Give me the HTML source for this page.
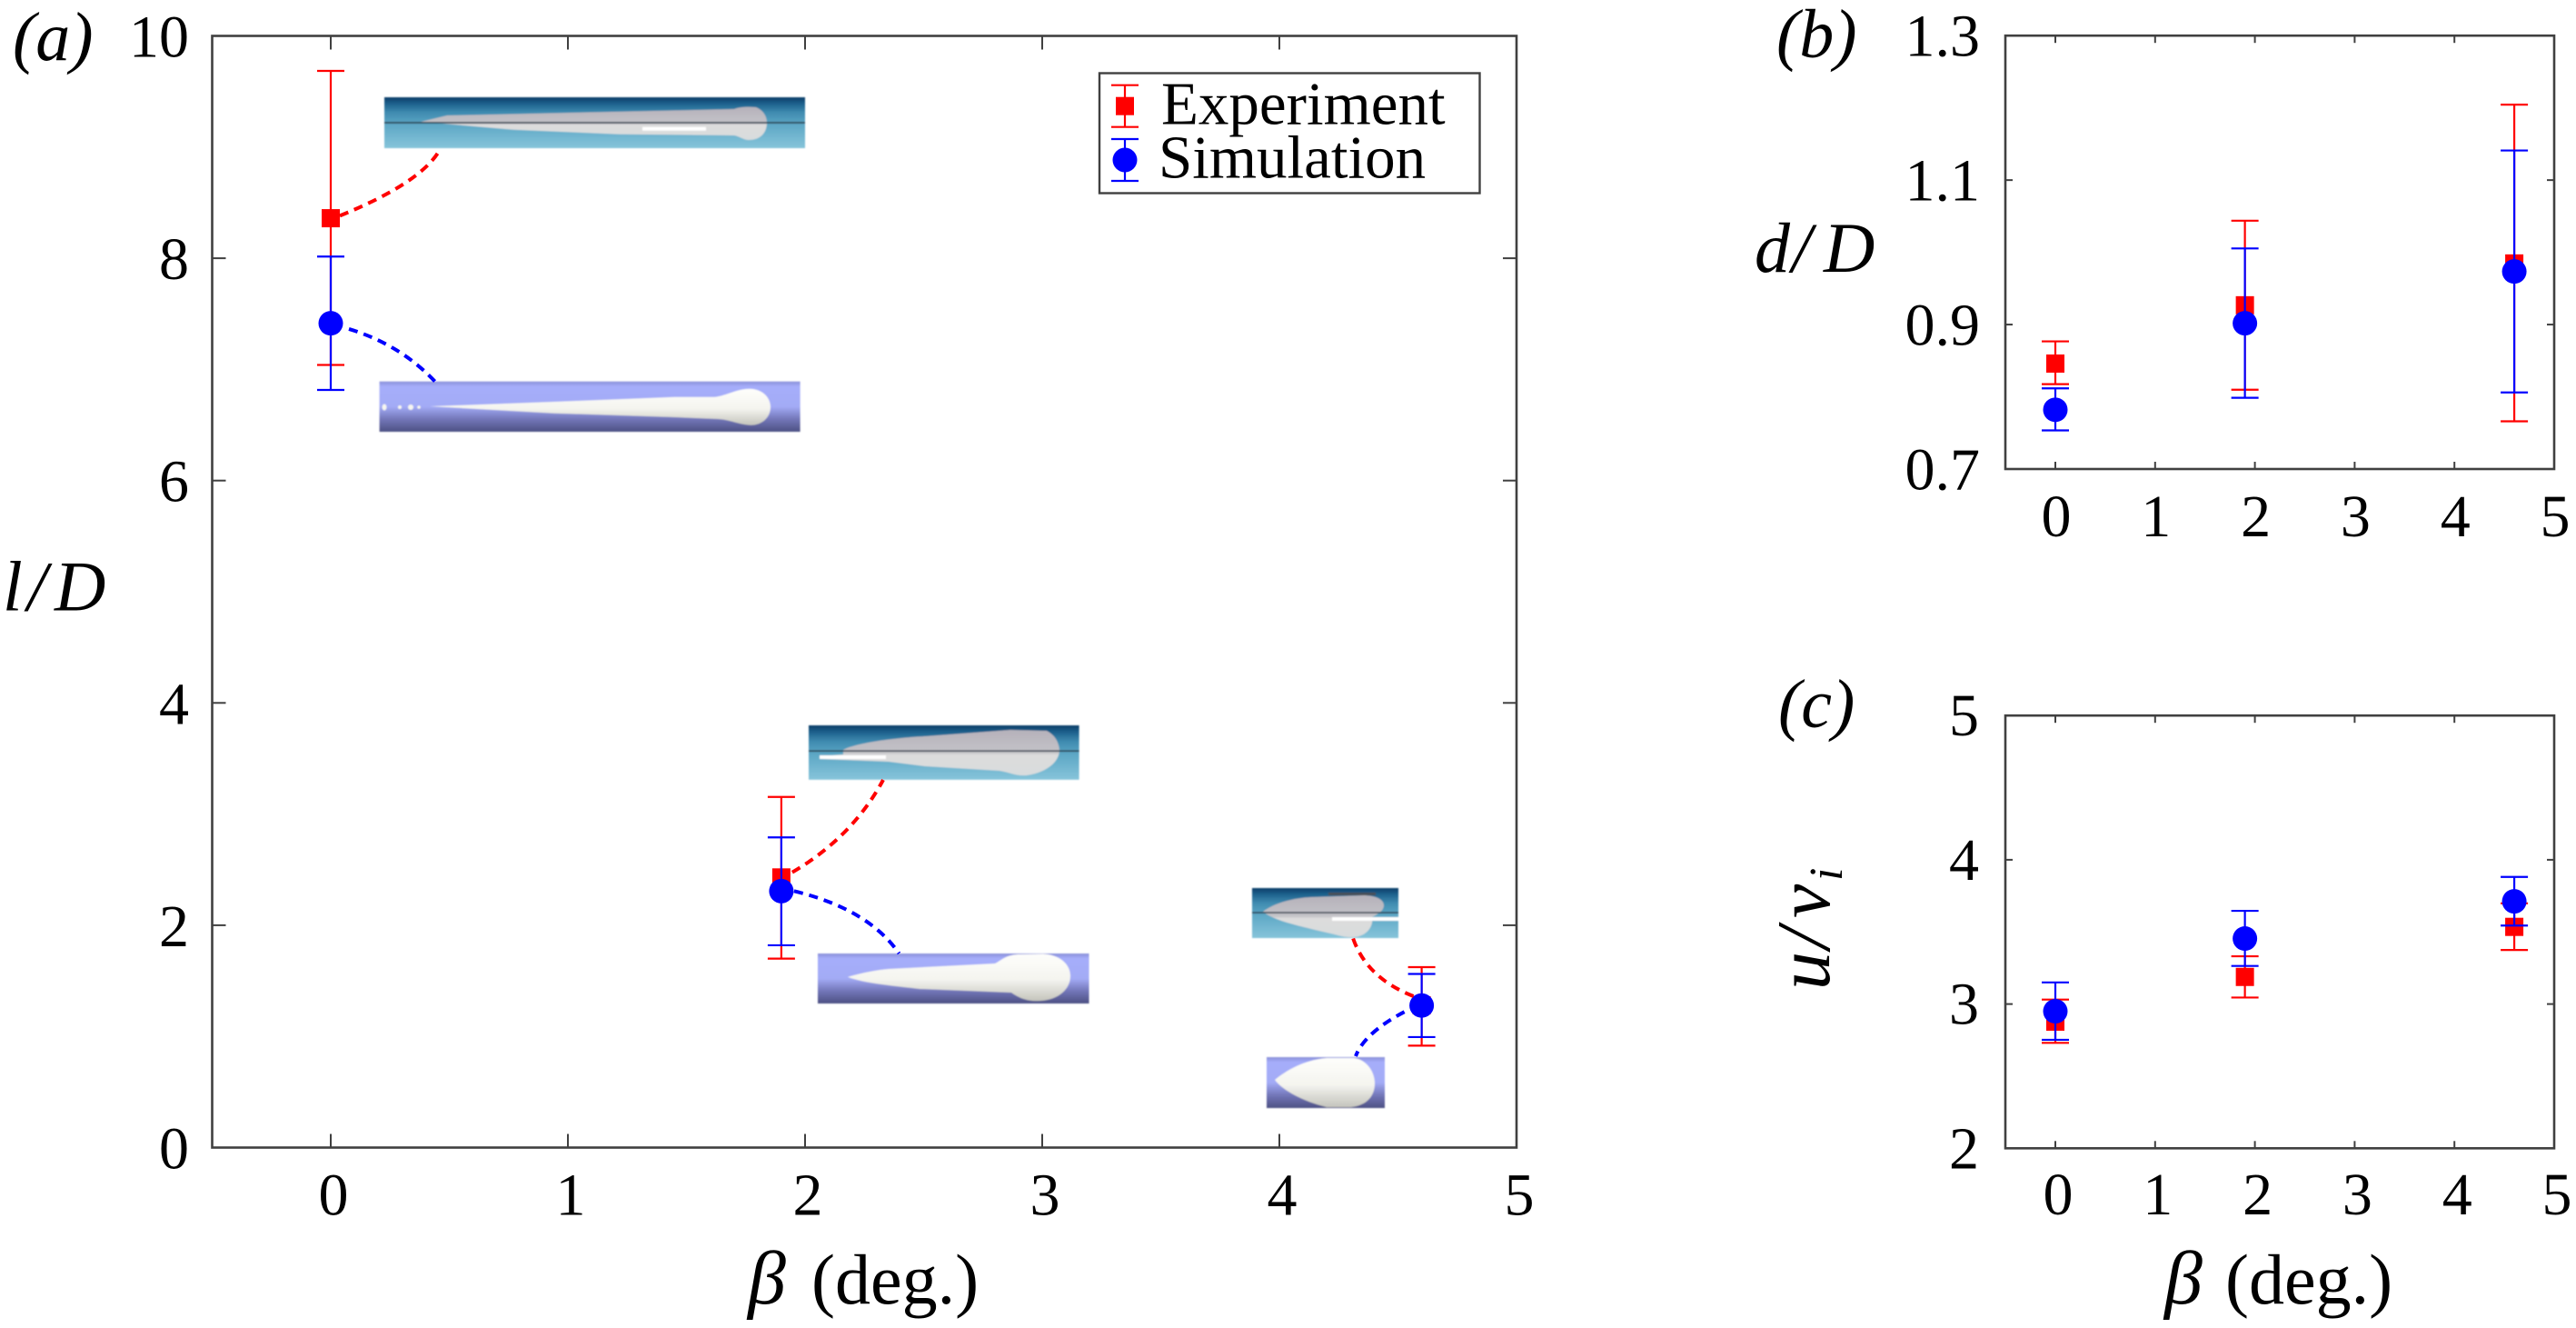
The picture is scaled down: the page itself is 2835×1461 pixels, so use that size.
<!DOCTYPE html>
<html lang="en">
<head>
<meta charset="utf-8">
<title>Length, diameter and velocity versus inclination angle</title>
<style>
html,body{margin:0;padding:0;background:#fff;width:2835px;height:1461px;overflow:hidden}
svg{display:block}
text{font-family:"Liberation Serif",serif;fill:#000}
.it{font-style:italic}
</style>
</head>
<body>
<svg id="fig" xmlns="http://www.w3.org/2000/svg" width="2835" height="1461" viewBox="0 0 2835 1461">
<defs>
<linearGradient id="expBg" x1="0" y1="0" x2="0" y2="1">
<stop offset="0" stop-color="#0b3d68"/><stop offset="0.12" stop-color="#1c5f8b"/><stop offset="0.3" stop-color="#3f8bb0"/><stop offset="0.55" stop-color="#5ea8c6"/><stop offset="1" stop-color="#86c4da"/>
</linearGradient>
<linearGradient id="simBg" x1="0" y1="0" x2="0" y2="1">
<stop offset="0" stop-color="#8a90d8"/><stop offset="0.1" stop-color="#a5adfa"/><stop offset="0.5" stop-color="#a3abf6"/><stop offset="0.75" stop-color="#7276b8"/><stop offset="1" stop-color="#4d5083"/>
</linearGradient>
<linearGradient id="expBlob" x1="0" y1="0" x2="0" y2="1">
<stop offset="0" stop-color="#b5b1ba"/><stop offset="0.5" stop-color="#c4c3c8"/><stop offset="0.55" stop-color="#dcdcdc"/><stop offset="1" stop-color="#d8dcdd"/>
</linearGradient>
<linearGradient id="simBlob" x1="0" y1="0" x2="0" y2="1">
<stop offset="0" stop-color="#fefefb"/><stop offset="0.55" stop-color="#f4f4ef"/><stop offset="1" stop-color="#c4c4bc"/>
</linearGradient>
<filter id="soft" x="-2%" y="-5%" width="104%" height="110%"><feGaussianBlur stdDeviation="0.7"/></filter>
</defs>

<g id="insets" filter="url(#soft)">
<g>
<rect x="423" y="107" width="463" height="56" fill="url(#expBg)"/>
<path d="M463 134L492 127L628 124L808 120C812 118 822 117 832 118C840 121 844 128 844 135C844 145 838 154 824 154C818 154 814 150 808 149L682 147.7L565 142.7Z" fill="url(#expBlob)"/>
<rect x="707" y="139.7" width="70" height="4" fill="#fff"/>
<rect x="423" y="134.2" width="463" height="1.6" fill="#2a3a48"/>
</g>
<g>
<rect x="417.6" y="419.7" width="463" height="55.3" fill="url(#simBg)"/>
<path d="M473 447L610 442L743 436.7L787 436.7C800 435 810 428 825 427.7C840 428 848 438 848 447.7C848 458 840 467.7 826 467.7C812 467 805 462 790 461L743 459L610 454.7Z" fill="url(#simBlob)"/>
<ellipse cx="423" cy="448" rx="2.5" ry="3.5" fill="#f6f6f0"/><circle cx="440" cy="448" r="2" fill="#f6f6f0"/><circle cx="452" cy="448" r="3" fill="#f6f6f0"/><circle cx="461" cy="448" r="1.8" fill="#f6f6f0"/>
</g>
<g>
<rect x="890" y="798" width="297.6" height="59.8" fill="url(#expBg)"/>
<path d="M928 825C940 818 980 812 1018 810L1112 803L1152 804C1160 808 1165 815 1166 825C1166 838 1152 850 1130 853C1118 854 1112 850 1100 848L1018 843L978 838L902 835L902 832L928 830Z" fill="url(#expBlob)"/>
<rect x="902" y="831" width="73" height="4" fill="#fff"/>
<rect x="890" y="825.4" width="297.6" height="1.6" fill="#2a3a48"/>
</g>
<g>
<rect x="900" y="1049" width="298.5" height="55" fill="url(#simBg)"/>
<path d="M933 1074.7C950 1070 965 1067 978 1066L1095 1060C1103 1056 1106 1051 1120 1050L1148 1049.5C1165 1050 1178 1060 1178 1073.7C1178 1088 1165 1100 1145 1101C1130 1102 1122 1098 1113 1092L1012 1088C990 1085 950 1082 933 1074.7Z" fill="url(#simBlob)"/>
</g>
<g>
<rect x="1378" y="977" width="161" height="55" fill="url(#expBg)"/>
<rect x="1462" y="982" width="52" height="3" fill="#4a4f58"/>
<path d="M1390 1003C1400 995 1420 988 1443 987L1500 985C1515 985 1523 990 1523 996C1523 1002 1516 1006 1510 1009C1512 1018 1505 1030 1490 1031C1480 1032 1470 1028 1460 1026C1430 1019 1400 1012 1390 1003Z" fill="url(#expBlob)"/>
<rect x="1466" y="1009" width="73" height="4" fill="#fff"/>
<rect x="1378" y="1003.3" width="161" height="1.5" fill="#2a3a48"/>
</g>
<g>
<rect x="1394" y="1163" width="130" height="56" fill="url(#simBg)"/>
<path d="M1403 1188C1415 1178 1435 1166 1460 1164L1490 1164C1505 1166 1513 1180 1513 1192C1513 1205 1505 1216 1487 1218L1460 1218C1435 1212 1412 1200 1403 1188Z" fill="url(#simBlob)"/>
</g>
</g>

<text x="14" y="66" font-size="76" class="it">(a)</text>
<text x="1955" y="63" font-size="76" class="it">(b)</text>
<text x="1957" y="800" font-size="76" class="it">(c)</text>

<text x="3 30 60" y="671.7" font-size="78" class="it">l/D</text>
<text x="1931 1972 2007" y="299" font-size="78" class="it">d/D</text>
<g transform="translate(2013,1089) rotate(-90)">
<text x="0 45 79" y="0" font-size="84" class="it">u/v</text>
<text x="120" y="14" font-size="52" class="it">i</text>
</g>

<text y="1434" font-size="78"><tspan x="823" class="it" font-size="84">β</tspan><tspan x="893">(deg.)</tspan></text>
<text y="1434" font-size="78"><tspan x="2382" class="it" font-size="84">β</tspan><tspan x="2449">(deg.)</tspan></text>

<g id="plots"></g>

<g>
<rect x="1210" y="80.5" width="418.5" height="132" fill="#fff" stroke="#404040" stroke-width="2.4"/>
<g>
<g stroke="#f00" stroke-width="2.2"><line x1="1238" y1="93.7" x2="1238" y2="139.7"/><line x1="1223" y1="93.7" x2="1253" y2="93.7"/><line x1="1223" y1="139.7" x2="1253" y2="139.7"/></g>
<rect x="1228" y="106.7" width="20" height="20" fill="#f00"/>
<text x="1278" y="136.7" font-size="67">Experiment</text>
</g>
<g>
<g stroke="#00f" stroke-width="2.2"><line x1="1238" y1="153" x2="1238" y2="199"/><line x1="1223" y1="153" x2="1253" y2="153"/><line x1="1223" y1="199" x2="1253" y2="199"/></g>
<circle cx="1238" cy="176" r="13.5" fill="#00f"/>
<text x="1275" y="195.7" font-size="67">Simulation</text>
</g>
</g>
</svg>

<script>
const betaValues = [0, 1.9, 4.6];

const xTickValues = [0, 1, 2, 3, 4, 5];
const xTickLabels = ["0", "1", "2", "3", "4", "5"];

const lengthTickValues = [0, 2, 4, 6, 8, 10];
const lengthTickLabels = ["0", "2", "4", "6", "8", "10"];
const lengthExperiment = [8.36, 2.43, 1.28];
const lengthExperimentLow = [7.04, 1.70, 0.917];
const lengthExperimentHigh = [9.685, 3.154, 1.623];
const lengthSimulation = [7.415, 2.307, 1.278];
const lengthSimulationLow = [6.815, 1.82, 0.994];
const lengthSimulationHigh = [8.015, 2.79, 1.562];

const diameterTickValues = [0.7, 0.9, 1.1, 1.3];
const diameterTickLabels = ["0.7", "0.9", "1.1", "1.3"];
const diameterExperiment = [0.846, 0.9267, 0.9846];
const diameterExperimentLow = [0.8175, 0.8098, 0.7661];
const diameterExperimentHigh = [0.8767, 1.0438, 1.2045];
const diameterSimulation = [0.782, 0.9018, 0.9735];
const diameterSimulationLow = [0.7535, 0.7986, 0.806];
const diameterSimulationHigh = [0.8117, 1.0054, 1.141];

const velocityTickValues = [2, 3, 4, 5];
const velocityTickLabels = ["2", "3", "4", "5"];
const velocityExperiment = [2.878, 3.188, 3.535];
const velocityExperimentLow = [2.731, 3.045, 3.375];
const velocityExperimentHigh = [3.031, 3.331, 3.698];
const velocitySimulation = [2.95, 3.454, 3.712];
const velocitySimulationLow = [2.752, 3.264, 3.544];
const velocitySimulationHigh = [3.15, 3.646, 3.881];

const NS = "http://www.w3.org/2000/svg";
const plots = document.getElementById("plots");

function mk(parent, tag, attrs, name) {
  const el = document.createElementNS(NS, tag);
  for (const k in attrs) el.setAttribute(k, attrs[k]);
  
  
  parent.appendChild(el);
  return el;
}

function linear(d0, d1, r0, r1) {
  return v => r0 + (v - d0) * (r1 - r0) / (d1 - d0);
}

function drawAxes(g, box, x, y, cfg) {
  mk(g, "rect", {x: box.l, y: box.t, width: box.r - box.l, height: box.b - box.t,
    fill: "none", stroke: "#404040", "stroke-width": 2.6}, cfg.id + "-frame");
  xTickValues.forEach((v, i) => {
    const px = x(v);
    if (v < 5) {
      mk(g, "line", {x1: px, x2: px, y1: box.b, y2: box.b - cfg.tick, stroke: "#404040", "stroke-width": 2}, cfg.id + "-x-tick-bottom");
      mk(g, "line", {x1: px, x2: px, y1: box.t, y2: box.t + cfg.tick, stroke: "#404040", "stroke-width": 2}, cfg.id + "-x-tick-top");
    }
    const t = mk(g, "text", {x: px + cfg.xLabelDx, y: cfg.xLabelY, "font-size": 66, "text-anchor": "middle"}, cfg.id + "-x-tick-label");
    t.textContent = xTickLabels[i];
  });
  cfg.yTicks.forEach((v, i) => {
    const py = y(v);
    if (i > 0 && i < cfg.yTicks.length - 1) {
      mk(g, "line", {x1: box.l, x2: box.l + cfg.tick, y1: py, y2: py, stroke: "#404040", "stroke-width": 2}, cfg.id + "-y-tick-left");
      mk(g, "line", {x1: box.r, x2: box.r - cfg.tick, y1: py, y2: py, stroke: "#404040", "stroke-width": 2}, cfg.id + "-y-tick-right");
    }
    const t = mk(g, "text", {x: cfg.yLabelX, y: py + cfg.yLabelDy, "font-size": 66, "text-anchor": "end"}, cfg.id + "-y-tick-label");
    t.textContent = cfg.yLabels[i];
  });
}

function errorBars(g, x, y, mid, low, high, color, name) {
  betaValues.forEach((b, i) => {
    const px = x(b);
    const bar = mk(g, "g", {stroke: color, "stroke-width": 2.2}, name + "-error-bar");
    mk(bar, "line", {x1: px, x2: px, y1: y(low[i]), y2: y(high[i])}, name + "-error-stem");
    mk(bar, "line", {x1: px - 15, x2: px + 15, y1: y(low[i]), y2: y(low[i])}, name + "-error-cap-low");
    mk(bar, "line", {x1: px - 15, x2: px + 15, y1: y(high[i]), y2: y(high[i])}, name + "-error-cap-high");
  });
}

function squares(g, x, y, vals, name) {
  betaValues.forEach((b, i) => {
    mk(g, "rect", {x: x(b) - 10, y: y(vals[i]) - 10, width: 20, height: 20, fill: "#f00"}, name + "-marker");
  });
}

function circles(g, x, y, vals, name) {
  betaValues.forEach((b, i) => {
    mk(g, "circle", {cx: x(b), cy: y(vals[i]), r: 13.5, fill: "#00f"}, name + "-marker");
  });
}

function panel(cfg, box, yMin, yMax, exp, expLow, expHigh, sim, simLow, simHigh) {
  const g = mk(plots, "g", {}, cfg.id);
  const x = linear(0, 5, box.x0, box.r);
  const y = linear(yMin, yMax, box.b, box.t);
  drawAxes(g, box, x, y, cfg);
  const eg = mk(g, "g", {}, cfg.id + "-experiment-series");
  const sg = mk(g, "g", {}, cfg.id + "-simulation-series");
  errorBars(eg, x, y, exp, expLow, expHigh, "#f00", cfg.id + "-experiment");
  squares(eg, x, y, exp, cfg.id + "-experiment");
  errorBars(sg, x, y, sim, simLow, simHigh, "#00f", cfg.id + "-simulation");
  circles(sg, x, y, sim, cfg.id + "-simulation");
  return {g, x, y};
}

const panelA = panel(
  {id: "panel-a", tick: 15, xLabelDx: 3, xLabelY: 1336.6, yLabelX: 208, yLabelDy: 23,
   yTicks: lengthTickValues, yLabels: lengthTickLabels},
  {l: 233.5, r: 1669, t: 39.5, b: 1262.5, x0: 364},
  0, 10,
  lengthExperiment, lengthExperimentLow, lengthExperimentHigh,
  lengthSimulation, lengthSimulationLow, lengthSimulationHigh);

panel(
  {id: "panel-b", tick: 8, xLabelDx: 1, xLabelY: 590, yLabelX: 2179, yLabelDy: 22.5,
   yTicks: diameterTickValues, yLabels: diameterTickLabels},
  {l: 2207, r: 2811, t: 39.2, b: 516, x0: 2262},
  0.7, 1.3,
  diameterExperiment, diameterExperimentLow, diameterExperimentHigh,
  diameterSimulation, diameterSimulationLow, diameterSimulationHigh);

panel(
  {id: "panel-c", tick: 8, xLabelDx: 3, xLabelY: 1336, yLabelX: 2178, yLabelDy: 22,
   yTicks: velocityTickValues, yLabels: velocityTickLabels},
  {l: 2207, r: 2811, t: 787.2, b: 1263.3, x0: 2262},
  2, 5,
  velocityExperiment, velocityExperimentLow, velocityExperimentHigh,
  velocitySimulation, velocitySimulationLow, velocitySimulationHigh);

function connector(i, vals, dx, dy, cx, cy, ex, ey, color, name) {
  const sx = panelA.x(betaValues[i]) + dx;
  const sy = panelA.y(vals[i]) + dy;
  mk(panelA.g, "path", {d: "M" + sx + " " + sy + "Q" + cx + " " + cy + " " + ex + " " + ey,
    fill: "none", stroke: color, "stroke-width": 4, "stroke-dasharray": "10 7"}, name);
}

connector(0, lengthExperiment, 10, -2.7, 466, 200, 485, 163, "#f00", "experiment-connector-beta-0");
connector(0, lengthSimulation, 20, 6.3, 440.5, 379, 479, 420, "#00f", "simulation-connector-beta-0");
connector(1, lengthExperiment, 12, -5.6, 938, 921, 972, 858, "#f00", "experiment-connector-beta-1-9");
connector(1, lengthSimulation, 14, 0, 955.6, 1000, 989.5, 1049, "#00f", "simulation-connector-beta-1-9");
connector(2, lengthExperiment, -9, -10, 1504, 1076, 1489, 1032, "#f00", "experiment-connector-beta-4-6");
connector(2, lengthSimulation, -19, 7, 1501.5, 1136.5, 1492, 1162, "#00f", "simulation-connector-beta-4-6");
</script>
</body>
</html>
